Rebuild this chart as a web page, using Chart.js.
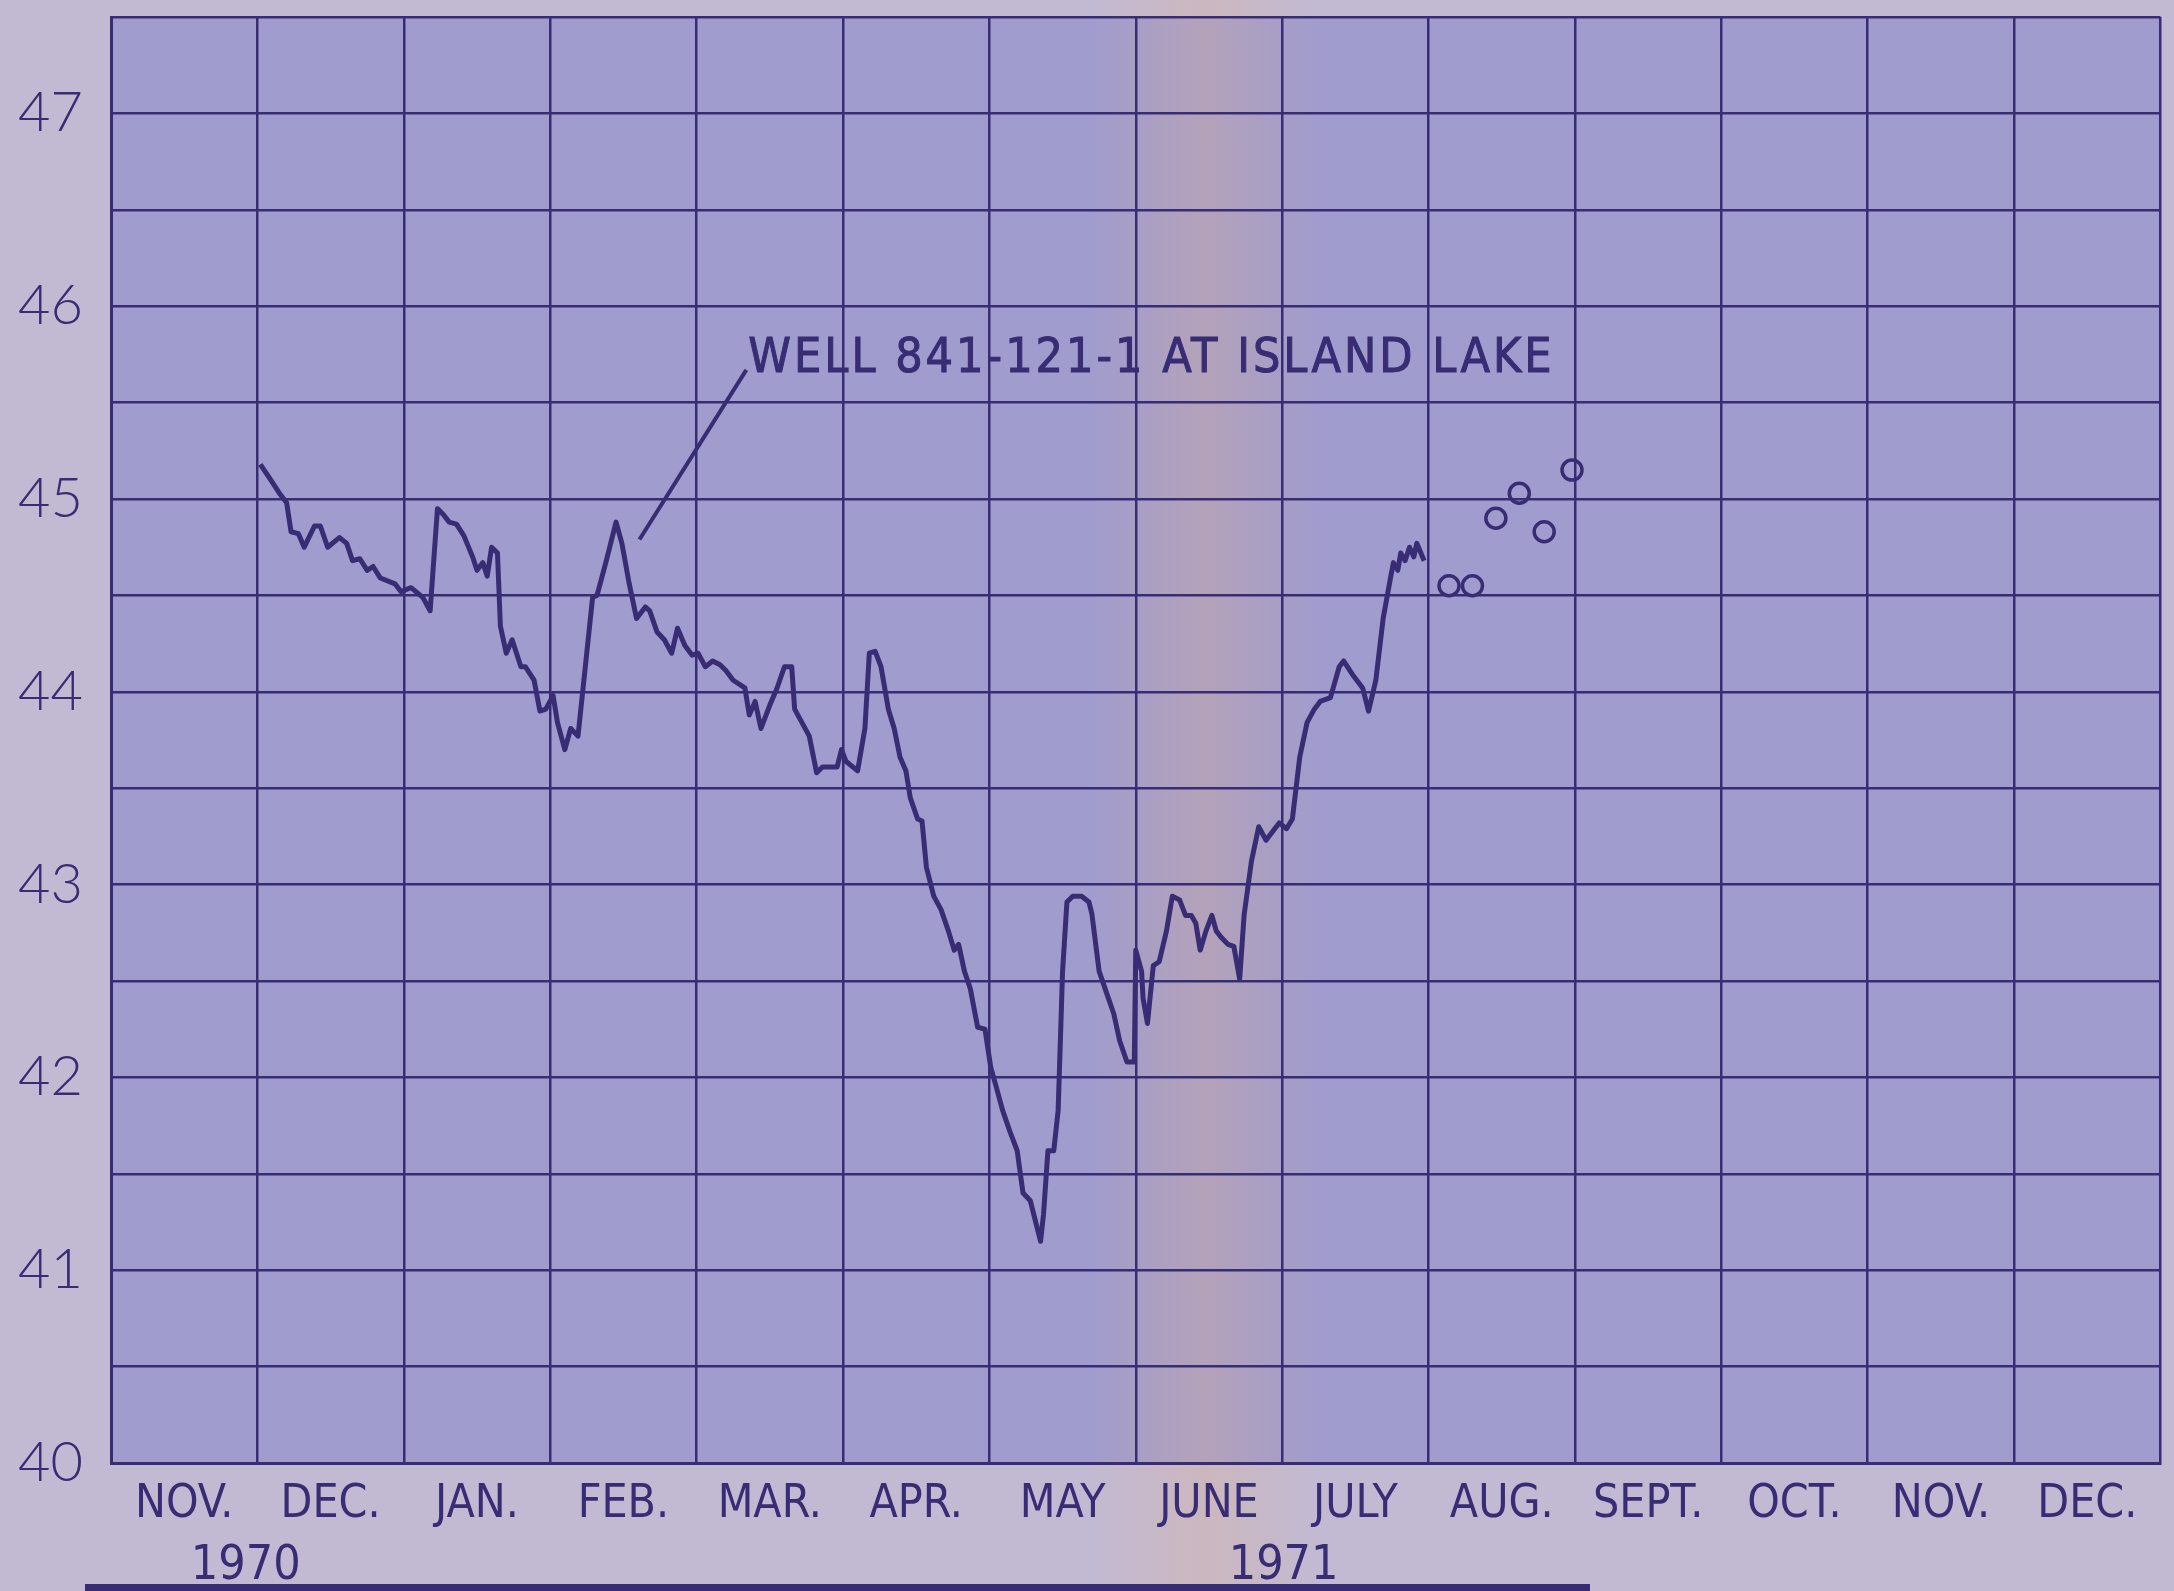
<!DOCTYPE html>
<html>
<head>
<meta charset="utf-8">
<script src="https://cdn.jsdelivr.net/npm/chart.js@4.4.1/dist/chart.umd.min.js"></script>
<style>
  html, body { margin: 0; padding: 0; background: #c2bad3; }
  #wrap { width: 2174px; height: 1591px; position: relative; }
</style>
</head>
<body>
<div id="wrap"><canvas id="chart" width="2174" height="1591"></canvas></div>
<script>
// Month bands along the bottom (Nov 1970 .. Dec 1971)
const months = ['NOV.', 'DEC.', 'JAN.', 'FEB.', 'MAR.', 'APR.', 'MAY', 'JUNE', 'JULY', 'AUG.', 'SEPT.', 'OCT.', 'NOV.', 'DEC.'];
const yearLabels = ['1970', '1971'];
const yearPos = [0.92, 8.01];

// Continuous recorder trace: position in months since 1 Nov 1970, water level (ft)
const traceMonth = [
  1.02, 1.09, 1.15, 1.20, 1.23, 1.28, 1.32, 1.39, 1.43, 1.48, 1.56, 1.61, 1.65, 1.70, 1.75, 1.79, 1.84, 1.94, 1.98, 2.05,
  2.13, 2.18, 2.23, 2.27, 2.31, 2.36, 2.41, 2.47, 2.50, 2.54, 2.57, 2.60, 2.64, 2.66, 2.70, 2.74, 2.80, 2.83, 2.89, 2.93,
  2.97, 3.02, 3.05, 3.10, 3.14, 3.19, 3.24, 3.29, 3.32, 3.38, 3.45, 3.49, 3.54, 3.59, 3.65, 3.68, 3.73, 3.78, 3.83, 3.87,
  3.92, 3.97, 4.01, 4.06, 4.11, 4.16, 4.20, 4.25, 4.33, 4.36, 4.40, 4.44, 4.50, 4.55, 4.60, 4.65, 4.67, 4.72, 4.77, 4.82,
  4.86, 4.96, 4.99, 5.02, 5.10, 5.15, 5.18, 5.22, 5.26, 5.31, 5.35, 5.39, 5.43, 5.46, 5.51, 5.54, 5.57, 5.62, 5.67, 5.72,
  5.76, 5.79, 5.83, 5.87, 5.92, 5.97, 6.01, 6.04, 6.09, 6.14, 6.19, 6.23, 6.28, 6.35, 6.37, 6.40, 6.44, 6.47, 6.50, 6.53,
  6.57, 6.63, 6.68, 6.70, 6.75, 6.80, 6.85, 6.89, 6.94, 6.99, 7.00, 7.04, 7.05, 7.08, 7.12, 7.16, 7.21, 7.25, 7.30, 7.34,
  7.38, 7.41, 7.44, 7.48, 7.52, 7.55, 7.58, 7.63, 7.67, 7.71, 7.74, 7.79, 7.84, 7.89, 7.93, 7.98, 8.03, 8.07, 8.12, 8.17,
  8.22, 8.26, 8.33, 8.39, 8.42, 8.48, 8.55, 8.59, 8.64, 8.69, 8.74, 8.76, 8.79, 8.81, 8.84, 8.87, 8.90, 8.92, 8.97
];
const traceLevel = [
  45.18, 45.10, 45.03, 44.98, 44.83, 44.82, 44.75, 44.86, 44.86, 44.75, 44.80, 44.77, 44.68, 44.69, 44.63, 44.65, 44.59, 44.56, 44.52, 44.54,
  44.49, 44.42, 44.95, 44.92, 44.88, 44.87, 44.81, 44.70, 44.63, 44.67, 44.60, 44.75, 44.72, 44.34, 44.20, 44.27, 44.13, 44.13, 44.06, 43.90,
  43.91, 43.98, 43.84, 43.70, 43.81, 43.77, 44.13, 44.49, 44.50, 44.67, 44.88, 44.77, 44.56, 44.38, 44.44, 44.42, 44.31, 44.27, 44.20, 44.33,
  44.24, 44.19, 44.20, 44.13, 44.16, 44.14, 44.11, 44.06, 44.02, 43.88, 43.95, 43.81, 43.93, 44.02, 44.13, 44.13, 43.91, 43.84, 43.77, 43.58,
  43.61, 43.61, 43.70, 43.64, 43.59, 43.81, 44.20, 44.21, 44.13, 43.91, 43.81, 43.66, 43.59, 43.45, 43.34, 43.33, 43.09, 42.94, 42.87, 42.76,
  42.66, 42.69, 42.55, 42.46, 42.26, 42.25, 42.05, 41.97, 41.83, 41.72, 41.62, 41.40, 41.36, 41.15, 41.29, 41.62, 41.62, 41.83, 42.55, 42.91,
  42.94, 42.94, 42.91, 42.85, 42.55, 42.44, 42.33, 42.19, 42.08, 42.08, 42.66, 42.55, 42.41, 42.28, 42.58, 42.60, 42.76, 42.94, 42.92, 42.84,
  42.84, 42.80, 42.66, 42.76, 42.84, 42.76, 42.73, 42.69, 42.68, 42.51, 42.84, 43.12, 43.30, 43.23, 43.27, 43.32, 43.29, 43.34, 43.66, 43.84,
  43.91, 43.95, 43.97, 44.13, 44.16, 44.09, 44.02, 43.90, 44.06, 44.38, 44.59, 44.67, 44.63, 44.72, 44.68, 44.75, 44.70, 44.77, 44.68
];

// Individual tape measurements (circles)
const tapeMonth = [9.14, 9.30, 9.46, 9.62, 9.79, 9.98];
const tapeLevel = [44.55, 44.55, 44.90, 45.03, 44.83, 45.15];

// Label and its leader line
const wellLabel = 'WELL 841-121-1 AT ISLAND LAKE';
const leaderMonth = [3.61, 4.34];
const leaderLevel = [44.79, 45.67];

const ink = '#382c74';
const paperOut = '#c2bad3';
const paperIn = '#a09ccd';
const labelFont = '"DejaVu Sans Condensed", "Liberation Sans Narrow", sans-serif';

const paperPlugin = {
  id: 'paper',
  beforeDraw(chart) {
    const { ctx, chartArea: a, width, height } = chart;
    ctx.save();
    ctx.fillStyle = paperOut;
    ctx.fillRect(0, 0, width, height);
    ctx.fillStyle = paperIn;
    ctx.fillRect(a.left, a.top, a.right - a.left, a.bottom - a.top);
    // tan stain running down the sheet
    const g = ctx.createLinearGradient(1090, 0, 1320, 0);
    g.addColorStop(0, 'rgba(226,176,140,0)');
    g.addColorStop(0.5, 'rgba(226,176,140,0.3)');
    g.addColorStop(1, 'rgba(226,176,140,0)');
    ctx.fillStyle = g;
    ctx.fillRect(1090, 0, 230, height);
    // dark edge of the backing sheet at the bottom
    ctx.fillStyle = ink;
    ctx.fillRect(85, height - 7, 1505, 7);
    ctx.restore();
  },
  afterDatasetsDraw(chart) {
    const { ctx, scales } = chart;
    const px = scales.xv.getPixelForValue(leaderMonth[1]);
    const py = scales.y.getPixelForValue(leaderLevel[1]);
    ctx.save();
    ctx.fillStyle = ink;
    ctx.strokeStyle = ink;
    ctx.lineWidth = 1;
    ctx.font = '48px ' + labelFont;
    ctx.textAlign = 'left';
    ctx.textBaseline = 'middle';
    ctx.letterSpacing = '3px';
    ctx.fillText(wellLabel, px + 2, py - 10);
    ctx.strokeText(wellLabel, px + 2, py - 10);
    ctx.restore();
  }
};

new Chart(document.getElementById('chart'), {
  type: 'line',
  data: {
    datasets: [
      {
        label: 'Recorder',
        data: traceMonth.map((m, i) => ({ x: m, y: traceLevel[i] })),
        xAxisID: 'xv',
        yAxisID: 'y',
        borderColor: ink,
        borderWidth: 5,
        borderJoinStyle: 'round',
        pointRadius: 0,
        tension: 0,
        fill: false
      },
      {
        label: 'Tape',
        type: 'scatter',
        data: tapeMonth.map((m, i) => ({ x: m, y: tapeLevel[i] })),
        xAxisID: 'xv',
        yAxisID: 'y',
        pointStyle: 'circle',
        pointRadius: 10,
        pointBorderWidth: 3.5,
        pointBorderColor: ink,
        pointBackgroundColor: 'rgba(0,0,0,0)'
      },
      {
        label: 'Leader',
        data: leaderMonth.map((m, i) => ({ x: m, y: leaderLevel[i] })),
        xAxisID: 'xv',
        yAxisID: 'y',
        borderColor: ink,
        borderWidth: 4,
        pointRadius: 0
      }
    ]
  },
  plugins: [paperPlugin],
  options: {
    responsive: false,
    animation: false,
    layout: { padding: { left: 0, right: 6, top: 17, bottom: 0 } },
    plugins: {
      legend: { display: false },
      tooltip: { enabled: false }
    },
    scales: {
      xv: {
        type: 'linear',
        display: false,
        min: 0,
        max: 14
      },
      x: {
        type: 'category',
        labels: months,
        position: 'bottom',
        offset: true,
        weight: 0,
        grid: { offset: true, color: ink, lineWidth: 2.5, drawTicks: false },
        border: { color: ink, width: 3 },
        ticks: {
          color: ink,
          padding: 14,
          font: { family: labelFont, size: 46 },
          maxRotation: 0,
          autoSkip: false
        },
        afterFit(scale) {
          scale.height = 73;
          scale.paddingLeft = 0;
          scale.paddingRight = 0;
        }
      },
      xYear: {
        type: 'linear',
        position: 'bottom',
        min: 0,
        max: 14,
        weight: 1,
        grid: { display: false, drawTicks: false },
        border: { display: false },
        afterBuildTicks(scale) { scale.ticks = yearPos.map(v => ({ value: v })); },
        ticks: {
          color: ink,
          padding: 2,
          autoSkip: false,
          maxRotation: 0,
          font: { family: labelFont, size: 48 },
          callback: (v) => {
            const i = yearPos.indexOf(v);
            return i >= 0 ? yearLabels[i] : '';
          }
        },
        afterFit(scale) {
          scale.height = 55;
          scale.paddingLeft = 0;
          scale.paddingRight = 0;
        }
      },
      y: {
        type: 'linear',
        min: 40,
        max: 47.5,
        grid: { color: ink, lineWidth: 2.5, drawTicks: false },
        border: { color: ink, width: 3 },
        ticks: {
          stepSize: 0.5,
          color: ink,
          padding: 28,
          font: { family: 'Lato, "Open Sans", sans-serif', size: 56, weight: '300' },
          callback: (v) => (Number.isInteger(v) ? String(v) : '')
        },
        afterFit(scale) {
          scale.width = 111;
          scale.paddingTop = 0;
          scale.paddingBottom = 0;
        }
      }
    }
  }
});
</script>
</body>
</html>
